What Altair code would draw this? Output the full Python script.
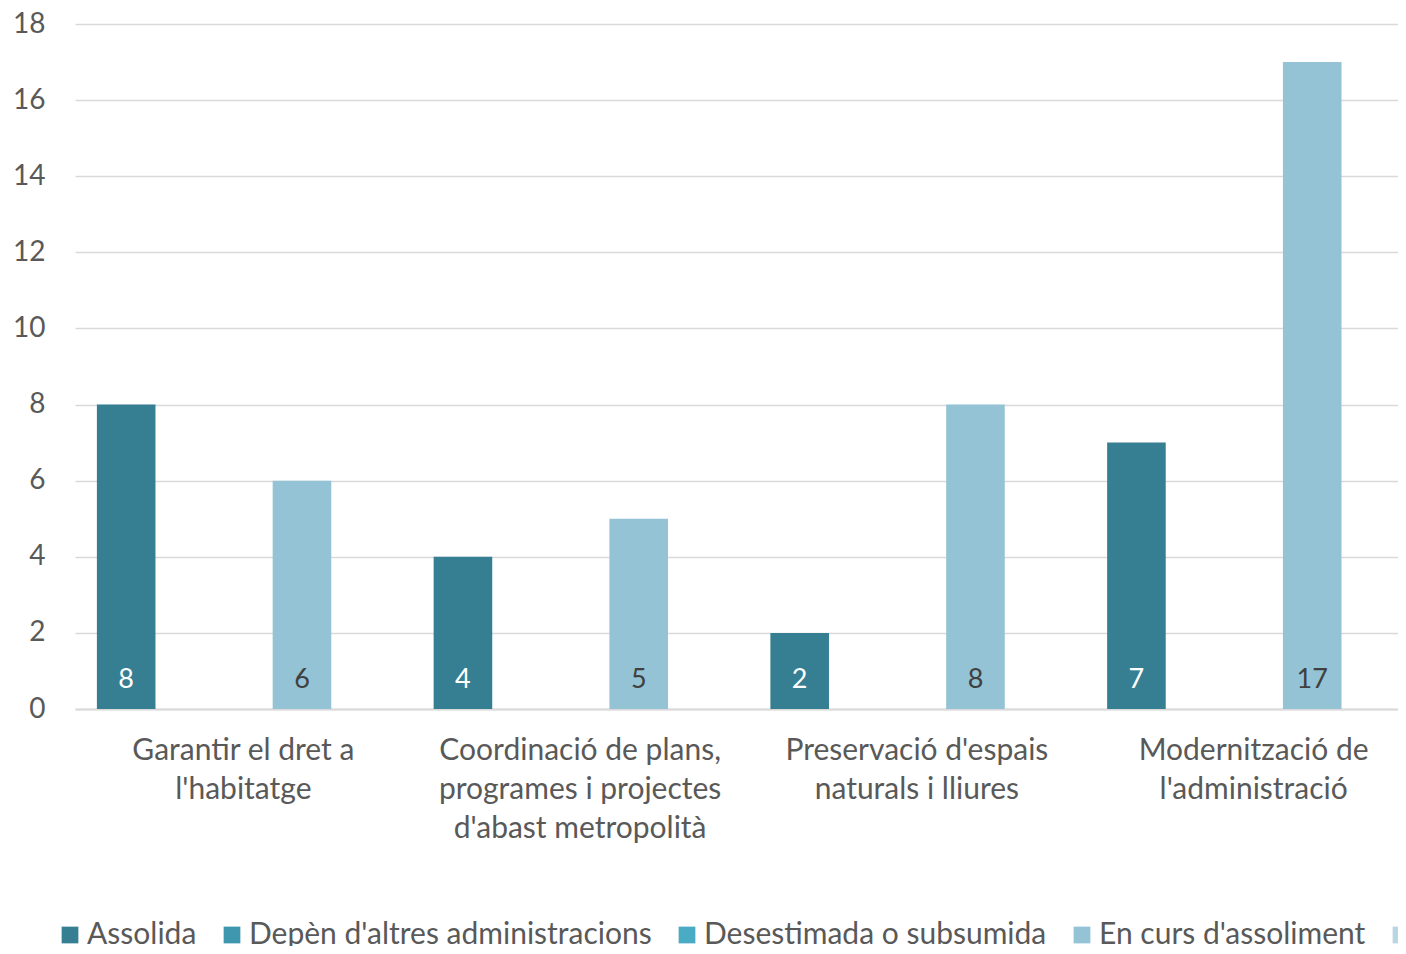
import altair as alt
import pandas as pd

categories = ["Garantir el dret a\nl'habitatge",
              "Coordinació de plans,\nprogrames i projectes\nd'abast metropolità",
              "Preservació d'espais\nnaturals i lliures",
              "Modernització de\nl'administració"]
series = ["Assolida", "Depèn d'altres administracions", "Desestimada o subsumida",
          "En curs d'assoliment", "Pendent"]
colors = ["#367f93", "#3e97ae", "#4aabc4", "#93c3d5", "#b8d7e3"]
values = {
    "Assolida": [8, 4, 2, 7],
    "Depèn d'altres administracions": [0, 0, 0, 0],
    "Desestimada o subsumida": [0, 0, 0, 0],
    "En curs d'assoliment": [6, 5, 8, 17],
    "Pendent": [0, 0, 0, 0],
}
y_ticks = list(range(0, 19, 2))

rows = []
for s in series:
    for c, v in zip(categories, values[s]):
        if v > 0:
            rows.append({"cat": c, "serie": s, "val": v})
df = pd.DataFrame(rows)

FONT = "Lato"
GRAY = "#595959"

x = alt.X("cat:N", sort=categories, title=None,
          scale=alt.Scale(domain=categories, paddingInner=0.13, paddingOuter=0.065,
                          range=[0, 1347]),
          axis=alt.Axis(labelAngle=0, labelExpr="split(datum.label, '\\n')",
                        labelFontSize=30, labelColor=GRAY, labelFont=FONT,
                        labelLineHeight=39, labelPadding=26, ticks=False,
                        labelBaseline="top",
                        domainColor="#d9d9d9", domainWidth=2, labelLimit=400))
xo = alt.XOffset("serie:N", sort=series,
                 scale=alt.Scale(domain=series, paddingInner=0, paddingOuter=0))

bars = alt.Chart(df).mark_bar().encode(
    x=x, xOffset=xo,
    y=alt.Y("val:Q", title=None,
            scale=alt.Scale(domain=[0, 18], nice=False),
            axis=alt.Axis(values=y_ticks, labelFontSize=28, labelColor=GRAY,
                          labelFont=FONT, ticks=False, domain=False,
                          gridColor="#d9d9d9", gridWidth=1.5, labelPadding=30)),
    color=alt.Color("serie:N", sort=series,
                    scale=alt.Scale(domain=series, range=colors),
                    legend=alt.Legend(title=None, orient="none", direction="horizontal",
                                      legendX=-20, legendY=896,
                                      symbolType="square", symbolSize=280,
                                      symbolStrokeWidth=0, symbolOpacity=1,
                                      labelFontSize=30, labelColor=GRAY, labelFont=FONT,
                                      columnPadding=20, labelOffset=2,
                                      labelLimit=600, columns=5)),
)

labels = alt.Chart(df).mark_text(fontSize=27, font=FONT, baseline="middle", dy=-29).encode(
    x=x, xOffset=xo,
    y=alt.datum(0),
    text=alt.Text("val:Q"),
    color=alt.condition(alt.datum.serie == "Assolida", alt.value("#ffffff"), alt.value("#404040")),
)

chart = alt.layer(bars, labels).properties(
    width=1323, height=685,
    padding={"left": 67, "top": 16, "right": 0, "bottom": 237},
    autosize=alt.AutoSizeParams(type="none"),
).configure_view(stroke=None)

chart.save("out.html", embed_options={"renderer": "svg", "actions": False})
